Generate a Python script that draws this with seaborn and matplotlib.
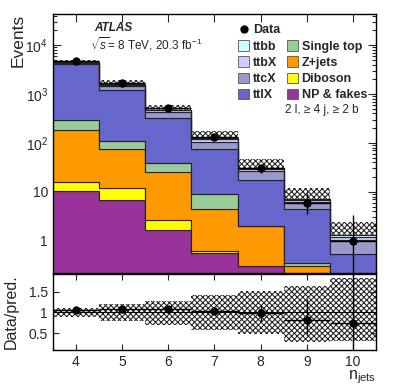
import numpy as np
import pandas as pd
import seaborn as sns
import matplotlib.pyplot as plt
from matplotlib.ticker import FixedLocator, FuncFormatter, NullFormatter, LogLocator
from matplotlib.patches import Patch
from matplotlib.lines import Line2D

# jet multiplicity bins
njets = [4, 5, 6, 7, 8, 9, 10]
edges = [3.5, 4.5, 5.5, 6.5, 7.5, 8.5, 9.5, 10.5]

# predicted events per bin, per process
np_fakes = [10.5, 6.9, 1.65, 0.56, 0.30, 0.14, 0.05]
diboson = [5.5, 4.8, 1.03, 0.07, 0.01, 0.01, 0.02]
zjets = [168, 64.6, 23.3, 3.81, 1.65, 0.16, 0.05]
single_top = [106, 31.7, 12.5, 4.76, 0.04, 0.04, 0.03]
ttlX = [3760, 1092, 291.5, 67.2, 15.6, 4.09, 0.385]
ttcX = [300, 250, 100, 30, 8.5, 1.7, 0.5]
ttbX = [75, 85, 33, 13, 3.0, 0.8, 0.15]
ttbb = [25, 30, 12, 5.6, 1.3, 0.36, 0.145]

# observed data
data = [4700, 1690, 510, 129, 30, 6, 1]
data_err_lo = [69, 41, 23, 11.4, 5.5, 2.4, 0.83]
data_err_hi = [69, 41, 23, 11.4, 5.5, 3.6, 2.3]

# relative uncertainty band on the prediction
band_lo = [0.90, 0.79, 0.71, 0.58, 0.48, 0.30, 0.32]
band_hi = [1.11, 1.21, 1.28, 1.41, 1.51, 1.63, 1.83]

# stacking order: first = top of stack
processes = ['ttbb', 'ttbX', 'ttcX', 'ttlX', 'Single top', 'Z+jets', 'Diboson', 'NP & fakes']
values = [ttbb, ttbX, ttcX, ttlX, single_top, zjets, diboson, np_fakes]
colors = ['#ccffff', '#ccccff', '#9999cc', '#6666cc', '#99cc99', '#ff9900', '#ffff00', '#993399']
palette = dict(zip(processes, colors))

df = pd.DataFrame([(n, p, v) for p, vals in zip(processes, values) for n, v in zip(njets, vals)],
                  columns=['njets', 'process', 'events'])

pred = np.sum(values, axis=0)
data = np.array(data, dtype=float)
ratio = data / pred

sns.set_style('ticks')
plt.rcParams['font.family'] = ['Liberation Sans', 'DejaVu Sans']
plt.rcParams['mathtext.fontset'] = 'custom'
plt.rcParams['mathtext.rm'] = 'Liberation Sans'
plt.rcParams['mathtext.it'] = 'Liberation Sans:italic'
plt.rcParams['mathtext.bf'] = 'Liberation Sans:bold'
plt.rcParams['hatch.linewidth'] = 0.75

fig = plt.figure(figsize=(4.07, 3.91), dpi=100)
ax = fig.add_axes([0.130, 0.302, 0.794, 0.662])
axr = fig.add_axes([0.130, 0.105, 0.794, 0.194], sharex=ax)

# uncertainty band behind the stack
ax.bar(njets, pred * (np.array(band_hi) - np.array(band_lo)), bottom=pred * np.array(band_lo),
       width=1.0, fill=False, hatch='xxxxxx', edgecolor='#222222', linewidth=0, zorder=0.5)

# stacked prediction
sns.histplot(data=df, x='njets', weights='events', hue='process', hue_order=processes,
             multiple='stack', bins=edges, element='step', palette=palette, alpha=1,
             edgecolor='#222222', linewidth=0.8, legend=False, ax=ax)

ax.errorbar(njets, data, yerr=[data_err_lo, data_err_hi], xerr=0.5, fmt='o', color='black',
            ms=5, elinewidth=1, capsize=0, zorder=5)

ax.set_yscale('log')
ax.set_ylim(0.22, 4.3e4)
ax.set_xlim(3.5, 10.5)
ax.yaxis.set_major_locator(LogLocator(base=10, numticks=10))
ax.yaxis.set_minor_locator(LogLocator(base=10, subs=np.arange(2, 10), numticks=20))
ax.yaxis.set_major_formatter(FuncFormatter(
    lambda v, p: '1' if v == 1 else ('10' if v == 10 else '$10^{%d}$' % round(np.log10(v)))))
ax.yaxis.set_minor_formatter(NullFormatter())
ax.set_xlabel('')
ax.set_ylabel('Events', fontsize=12.5, loc='top')
ax.yaxis.set_label_coords(-0.085, 1.0)
ax.tick_params(axis='x', labelbottom=False)
ax.tick_params(which='both', direction='in', top=True, right=True, labelsize=10, width=0.8)
ax.tick_params(which='major', length=6)
ax.tick_params(which='minor', length=3)
ax.xaxis.set_major_locator(FixedLocator(njets))

# legend
handles = [Line2D([], [], marker='o', color='black', ls='', ms=5)]
labels = ['Data']
for p in ['ttbb', 'ttbX', 'ttcX', 'ttlX']:
    handles.append(Patch(facecolor=palette[p], edgecolor='#555555', linewidth=0.6))
    labels.append(p)
handles.append(Patch(facecolor='none', edgecolor='none'))
labels.append('')
for p in ['Single top', 'Z+jets', 'Diboson', 'NP & fakes']:
    handles.append(Patch(facecolor=palette[p], edgecolor='#555555', linewidth=0.6))
    labels.append(p)
ax.legend(handles, labels, ncol=2, loc='upper left', bbox_to_anchor=(0.573, 0.962),
          frameon=False, prop={'weight': 'bold', 'size': 9}, handlelength=0.9,
          handleheight=0.9, handletextpad=0.3, columnspacing=0.5, labelspacing=0.3,
          borderaxespad=0, borderpad=0)

ax.text(0.128, 0.948, 'ATLAS', transform=ax.transAxes, fontsize=8.5, fontweight='bold',
        fontstyle='italic', va='center')
ax.text(0.115, 0.882, r'$\sqrt{s}$= 8 TeV, 20.3 fb$^{-1}$', transform=ax.transAxes,
        fontsize=8.5, va='center')
ax.text(0.947, 0.63, '2 l, \u2265 4 j, \u2265 2 b', transform=ax.transAxes,
        fontsize=8.5, va='center', ha='right')

# ratio panel
axr.bar(njets, np.array(band_hi) - np.array(band_lo), bottom=band_lo, width=1.0, fill=False,
        hatch='xxxxxx', edgecolor='#222222', linewidth=0, zorder=1)
axr.axhline(1.0, color='black', lw=0.8, zorder=2)
axr.errorbar(njets, ratio, yerr=[np.array(data_err_lo) / pred, np.array(data_err_hi) / pred],
             xerr=0.5, fmt='o', color='black', ms=5, elinewidth=1, capsize=0, zorder=5)
axr.set_ylim(0.1, 1.92)
axr.yaxis.set_major_locator(FixedLocator([0.5, 1.0, 1.5]))
axr.yaxis.set_major_formatter(FuncFormatter(lambda v, p: '%g' % v))
axr.set_ylabel('Data/pred.', fontsize=11.5)
axr.yaxis.set_label_coords(-0.105, 0.5)
axr.set_xlabel(r'n$_{\mathrm{jets}}$', fontsize=11.5, loc='right', labelpad=0)
axr.tick_params(which='both', direction='in', top=True, right=True, labelsize=10, width=0.8,
                length=4)

for a in (ax, axr):
    for s in a.spines.values():
        s.set_linewidth(1.0)
        s.set_color('black')

fig.savefig('out.png', dpi=100)
